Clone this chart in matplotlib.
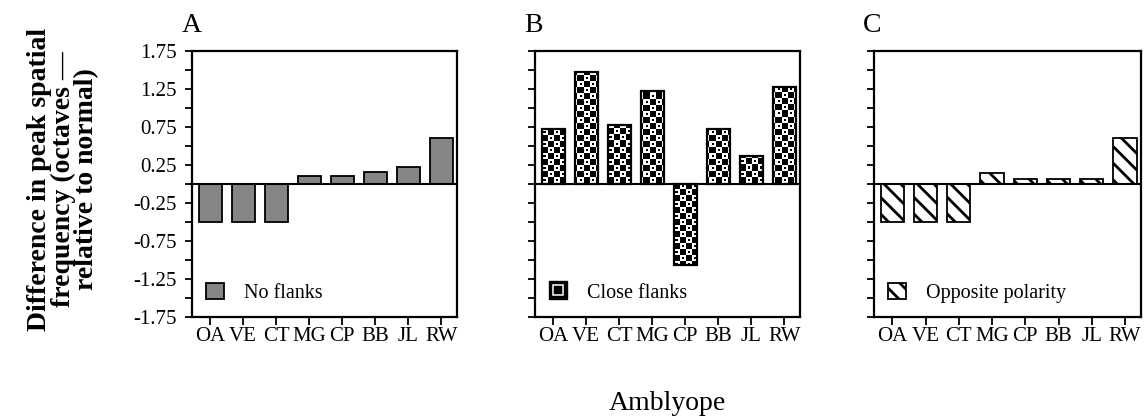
import matplotlib
matplotlib.use("Agg")
import matplotlib.pyplot as plt
from matplotlib.patches import Patch
from matplotlib.lines import Line2D
import numpy as np

plt.rcParams['font.family'] = ['Liberation Serif', 'DejaVu Serif']
plt.rcParams['hatch.linewidth'] = 2.0

# ---- data ----
subjects = ["OA", "VE", "CT", "MG", "CP", "BB", "JL", "RW"]
no_flanks = [-0.5, -0.5, -0.5, 0.1, 0.1, 0.16, 0.23, 0.61]
close_flanks = [0.72, 1.47, 0.78, 1.23, -1.06, 0.72, 0.37, 1.28]
opposite_polarity = [-0.5, -0.5, -0.5, 0.14, 0.07, 0.07, 0.07, 0.6]
panel_titles = ["A", "B", "C"]
legend_labels = ["No flanks", "Close flanks", "Opposite polarity"]
ytick_values = [-1.75, -1.5, -1.25, -1.0, -0.75, -0.5, -0.25, 0.0,
                0.25, 0.5, 0.75, 1.0, 1.25, 1.5, 1.75]
ytick_labels = ["-1.75", "", "-1.25", "", "-0.75", "", "-0.25", "",
                "0.25", "", "0.75", "", "1.25", "", "1.75"]
ylabel = "Difference in peak spatial\nfrequency (octaves \u2014\nrelative to normal)"
xlabel = "Amblyope"

W, H = 1148, 416
fig = plt.figure(figsize=(W / 100, H / 100), dpi=100)

lefts = [192, 535, 874]
widths = [265, 265, 267]
top, bottom = 51, 317

x = np.arange(len(subjects))
series = [no_flanks, close_flanks, opposite_polarity]

# texture tile for the "close flanks" fill: black with staggered white squares
tile = np.zeros((12, 12))
tile[0:6, 0:6] = 1
tile[6:12, 6:12] = 1
tile[2:4, 2:4] = 0
tile[8:10, 8:10] = 0

XLIM = (-0.55, 7.48)
YLIM = (-1.75, 1.75)

for i in range(3):
    ax = fig.add_axes([lefts[i] / W, 1 - bottom / H, widths[i] / W, (bottom - top) / H])
    vals = series[i]
    if i == 0:
        ax.bar(x, vals, width=0.7, color='#858585', edgecolor='black', linewidth=1.3, zorder=2)
        handle = Patch(facecolor='#858585', edgecolor='black', linewidth=1.3)
    elif i == 1:
        bars = ax.bar(x, vals, width=0.7, color='black', edgecolor='black', linewidth=1.3, zorder=2)
        nrep_y = (bottom - top) // 12 + 2
        nrep_x = widths[i] // 12 + 2
        tex = np.tile(tile, (nrep_y, nrep_x))[:bottom - top, :widths[i]]
        for b in bars:
            im = ax.imshow(tex, cmap='gray', vmin=0, vmax=1, interpolation='nearest',
                           extent=(XLIM[0], XLIM[1], YLIM[0], YLIM[1]), aspect='auto',
                           zorder=2.5)
            im.set_clip_path(b)
        ax.bar(x, vals, width=0.7, fill=False, edgecolor='black', linewidth=1.6, zorder=3)
        handle = (Line2D([], [], marker='s', color='black', markersize=12.5, linestyle='none'),
                  Line2D([], [], marker='s', markerfacecolor='none', markeredgecolor='white',
                         markersize=6.5, markeredgewidth=1.1, linestyle='none'))
    else:
        ax.bar(x, vals, width=0.7, color='white', edgecolor='black', hatch='\\\\', linewidth=1.3, zorder=2)
        handle = Patch(facecolor='white', edgecolor='black', hatch='\\\\', linewidth=1.3)

    ax.axhline(0, color='black', linewidth=1.5, zorder=4)
    ax.set_xlim(*XLIM)
    ax.set_ylim(*YLIM)
    ax.set_xticks(x)
    ax.set_xticklabels(subjects, fontsize=15)
    ax.set_yticks(ytick_values)
    if i == 0:
        ax.set_yticklabels(ytick_labels, fontsize=15)
    else:
        ax.set_yticklabels([])
    ax.tick_params(axis='y', direction='out', length=5, width=1.3, pad=6)
    ax.tick_params(axis='x', direction='out', length=6, width=1.3, pad=1.5)
    for s in ax.spines.values():
        s.set_linewidth(1.6)
    ax.text(-0.04, 1 + (51 - 32) / 266, panel_titles[i], transform=ax.transAxes, fontsize=20,
            ha='left', va='baseline')
    ax.legend([handle], [legend_labels[i]], loc='lower left', frameon=False,
              fontsize=14.5, handlelength=0.9, handleheight=0.9, numpoints=1,
              handletextpad=1.0, borderaxespad=0.4, borderpad=0.3)

fig.text(63 / W, 1 - 179 / H, ylabel, rotation=90, ha='center', va='center',
         fontsize=20, fontweight='bold', linespacing=0.93, multialignment='center')
fig.text(667 / W, 1 - 404 / H, xlabel, ha='center', va='center', fontsize=20)

fig.savefig("out.png", dpi=100)
